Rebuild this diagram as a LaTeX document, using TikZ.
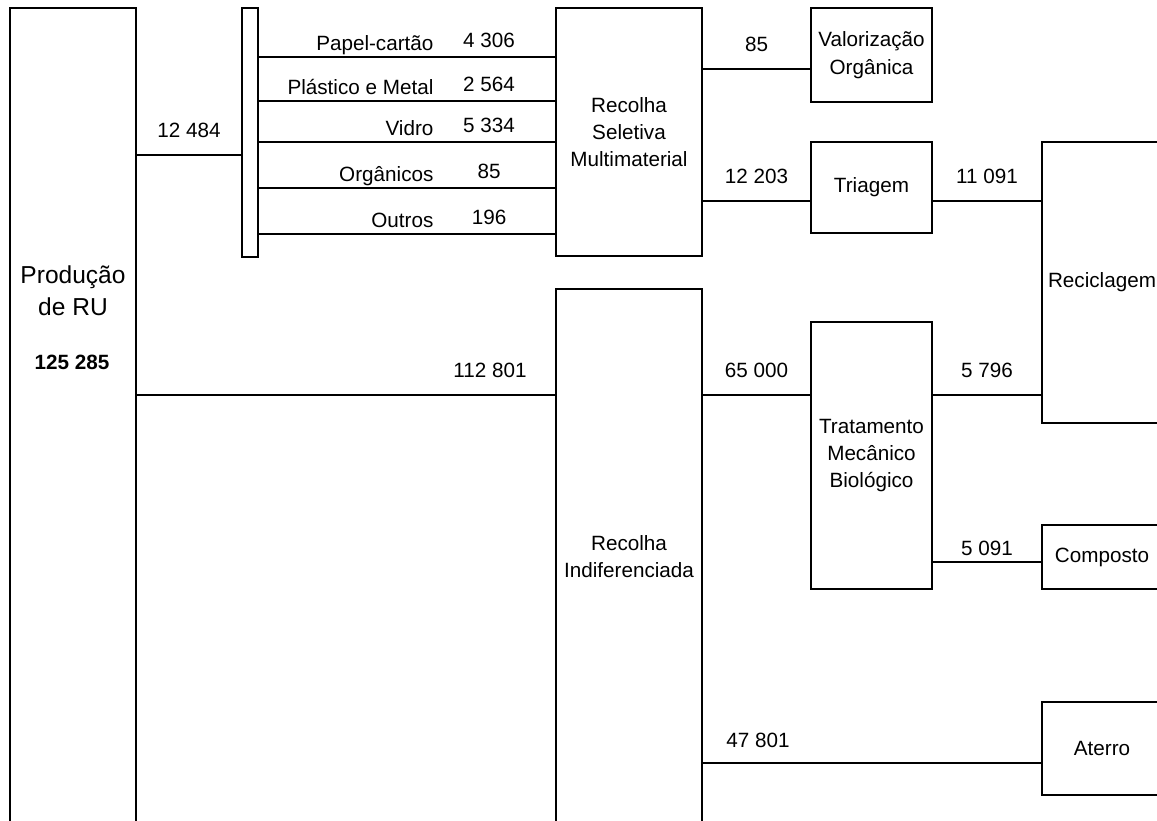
\documentclass[tikz,border=0pt]{standalone}
\usepackage{fontspec}
\setmainfont{Liberation Sans}
\usetikzlibrary{positioning}
\tikzset{
  box/.style={draw, rectangle, line width=2pt, align=center, inner sep=0pt, font=\fontsize{15.5}{20.5}\selectfont},
  lnk/.style={line width=2pt},
  qty/.style={font=\fontsize{15.5}{20.5}\selectfont, inner sep=0pt, anchor=base},
  big/.style={font=\fontsize{18.4}{24}\selectfont, align=center, inner sep=0pt},
}

\begin{document}
\begin{tikzpicture}[x=0.75pt,y=-0.75pt]
\useasboundingbox (0,0) rectangle (1157,821);
\clip (0,0) rectangle (1157,821);
\node[box, minimum width=94.5pt, minimum height=624pt] (prod) at (73,424) {};
\node[big] (prodtxt) at (73,291) {Produção\\de RU};
\node[qty, anchor=center, font=\fontsize{15.5}{20.5}\selectfont\bfseries] (prodnum) at (72,362) {125 285};
\node[box, minimum width=12pt, minimum height=186.75pt] (bar) at (250,132.5) {};
\node[box, minimum width=109.5pt, minimum height=186pt] (sel) at (629,132) {Recolha\\Seletiva\\Multimaterial};
\node[box, minimum width=109.5pt, minimum height=401.25pt] (ind) at (629,556.5) {Recolha\\Indiferenciada};
\node[box, minimum width=90.75pt, minimum height=70.5pt] (val) at (871.5,55) {Valorização\\Orgânica};
\node[box, minimum width=90.75pt, minimum height=68.25pt] (tri) at (871.5,187.5) {Triagem};
\node[box, minimum width=90.75pt, minimum height=200.25pt] (tmb) at (871.5,455.5) {Tratamento\\Mecânico\\Biológico};
\node[box, minimum width=90pt, minimum height=210.75pt] (rec) at (1102,282.5) {Reciclagem};
\node[box, minimum width=90pt, minimum height=48pt] (comp) at (1102,557) {Composto};
\node[box, minimum width=90pt, minimum height=69.75pt] (ate) at (1102,748.5) {Aterro};

\draw[lnk] (prod.east |- 0,155) -- node[qty, yshift=13.5pt] {12 484} (bar.west |- 0,155);
\foreach \y/\nm/\q in {57/Papel-cartão/4 306, 101/Plástico e Metal/2 564, 142/Vidro/5 334, 188/Orgânicos/85, 234/Outros/196}
  \draw[lnk] (bar.east |- 0,\y) -- node[qty, pos=0.594, anchor=base east, yshift=5pt] {\nm}
    node[qty, pos=0.778, yshift=7pt] {\q} (sel.west |- 0,\y);
\draw[lnk] (prod.east |- 0,395) -- node[qty, pos=0.845, yshift=13.5pt] {112 801} (ind.west |- 0,395);
\draw[lnk] (sel.east |- 0,69) -- node[qty, yshift=13.5pt] {85} (val.west |- 0,69);
\draw[lnk] (sel.east |- 0,201) -- node[qty, yshift=13.5pt] {12 203} (tri.west |- 0,201);
\draw[lnk] (tri.east |- 0,201) -- node[qty, yshift=13.5pt] {11 091} (rec.west |- 0,201);
\draw[lnk] (ind.east |- 0,395) -- node[qty, yshift=13.5pt] {65 000} (tmb.west |- 0,395);
\draw[lnk] (tmb.east |- 0,395) -- node[qty, yshift=13.5pt] {5 796} (rec.west |- 0,395);
\draw[lnk] (tmb.east |- 0,562) -- node[qty, yshift=5.25pt] {5 091} (comp.west |- 0,562);
\draw[lnk] (ind.east |- 0,763) -- node[qty, pos=0.162, yshift=12pt] {47 801} (ate.west |- 0,763);
\end{tikzpicture}
\end{document}
